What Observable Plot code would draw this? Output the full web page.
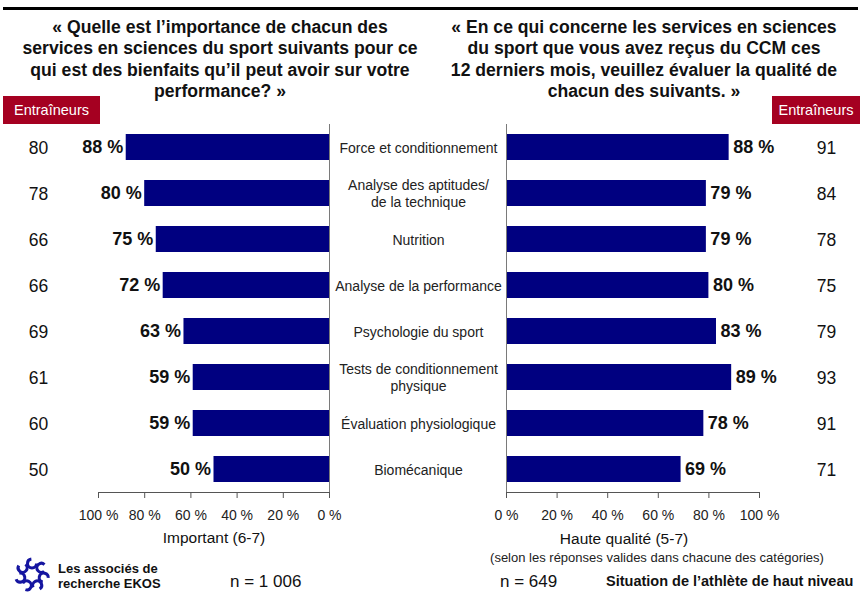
<!DOCTYPE html>
<html><head><meta charset="utf-8">
<script src="https://cdn.jsdelivr.net/npm/d3@7"></script>
<script src="https://cdn.jsdelivr.net/npm/@observablehq/plot@0.6"></script>
<style>
body{margin:0;background:#fff;font-family:"Liberation Sans",Arial,sans-serif;}
#wrap{position:relative;width:860px;height:592px;overflow:hidden;background:#fff;}
#wrap svg.plotsvg{position:absolute;left:0;top:0;}
.t{position:absolute;white-space:nowrap;color:#111;}
.title{position:absolute;top:17px;width:440px;text-align:center;font-weight:bold;font-size:17.6px;line-height:21.3px;color:#111;}
.badge{position:absolute;top:96px;height:28px;line-height:28px;background:#A50021;color:#fff;font-size:14.5px;text-align:center;}
</style></head><body><div id="wrap"></div>
<script>
// ---- data ----
const categories = [
  "Force et conditionnement",
  "Analyse des aptitudes/\nde la technique",
  "Nutrition",
  "Analyse de la performance",
  "Psychologie du sport",
  "Tests de conditionnement\nphysique",
  "Évaluation physiologique",
  "Biomécanique"
];
const important = [88, 80, 75, 72, 63, 59, 59, 50];        // athletes, % important (6-7)
const quality = [88, 79, 79, 80, 83, 89, 78, 69];          // athletes, % high quality (5-7)
const coachImportant = [80, 78, 66, 66, 69, 61, 60, 50];   // Entraîneurs (left)
const coachQuality = [91, 84, 78, 75, 79, 93, 91, 71];     // Entraîneurs (right)
const xTicks = [0, 20, 40, 60, 80, 100];
const titleLeft = ["« Quelle est l’importance de chacun des", "services en sciences du sport suivants pour ce", "qui est des bienfaits qu’il peut avoir sur votre", "performance? »"];
const titleRight = ["« En ce qui concerne les services en sciences", "du sport que vous avez reçus du CCM ces", "12 derniers mois, veuillez évaluer la qualité de", "chacun des suivants. »"];
const badgeLabel = "Entraîneurs";
const axisLabelLeft = "Important (6-7)";
const axisLabelRight = "Haute qualité (5-7)";
const noteRight = "(selon les réponses valides dans chacune des catégories)";
const nLeft = "n = 1 006";
const nRight = "n = 649";
const footerRight = "Situation de l’athlète de haut niveau";
const logoText = ["Les associés de", "recherche EKOS"];

// ---- build ----
const rows = categories.map((c, i) => ({cat: c, imp: important[i], qual: quality[i], cImp: coachImportant[i], cQual: coachQuality[i]}));
const pct = d => `${d} %`;
const navy = "#000080";
const font = "Liberation Sans, Arial, sans-serif";
const common = {
  width: 860, height: 592, marginTop: 124, marginBottom: 100,
  className: "plotsvg",
  style: {background: "transparent", fontFamily: font, fontSize: "14px", color: "#111", overflow: "visible"}
};
const yOpt = {domain: categories, axis: null, paddingInner: 0.435, paddingOuter: 0.217};

const left = Plot.plot({
  ...common, marginLeft: 98, marginRight: 531,
  x: {domain: [0, 100], reverse: true},
  y: yOpt,
  marks: [
    Plot.barX(rows, {x: "imp", y: "cat", fill: navy}),
    Plot.ruleX([0], {stroke: "#7a7a7a"}),
    Plot.frame({anchor: "bottom", stroke: "#555"}),
    Plot.axisX({ticks: xTicks, tickFormat: pct, tickSize: 6, tickPadding: 12, fontSize: 14, stroke: "#555", fill: "#222", label: null}),
    Plot.text(rows, {x: "imp", y: "cat", text: d => pct(d.imp), textAnchor: "end", dx: -3, fontSize: 18, fontWeight: "bold", fill: "#111"}),
    Plot.text(rows, {y: "cat", text: "cImp", frameAnchor: "left", textAnchor: "middle", dx: -60, dy: 1, fontSize: 17.5, fill: "#111"}),
    Plot.text(rows, {y: "cat", text: "cat", frameAnchor: "right", textAnchor: "middle", dx: 89, fontSize: 14, lineHeight: 1.2, fill: "#222"}),
    Plot.text([axisLabelLeft], {frameAnchor: "bottom", dy: 50, fontSize: 15.5, fill: "#111"})
  ]
});

const right = Plot.plot({
  ...common, marginLeft: 506, marginRight: 101,
  x: {domain: [0, 100]},
  y: yOpt,
  marks: [
    Plot.barX(rows, {x: "qual", y: "cat", fill: navy}),
    Plot.ruleX([0], {stroke: "#7a7a7a"}),
    Plot.frame({anchor: "bottom", stroke: "#555"}),
    Plot.axisX({ticks: xTicks, tickFormat: pct, tickSize: 6, tickPadding: 12, fontSize: 14, stroke: "#555", fill: "#222", label: null}),
    Plot.text(rows, {x: "qual", y: "cat", text: d => pct(d.qual), textAnchor: "start", dx: 4, fontSize: 18, fontWeight: "bold", fill: "#111"}),
    Plot.text(rows, {y: "cat", text: "cQual", frameAnchor: "right", textAnchor: "middle", dx: 67, dy: 1, fontSize: 17.5, fill: "#111"}),
    Plot.text([axisLabelRight], {frameAnchor: "bottom", dx: -9, dy: 51, fontSize: 15.5, fill: "#111"}),
    Plot.text([noteRight], {frameAnchor: "bottom", dx: 24, dy: 69, fontSize: 13, fill: "#222"})
  ]
});

const wrap = document.getElementById("wrap");
wrap.appendChild(left);
wrap.appendChild(right);

function el(cls, css, html) {
  const d = document.createElement("div");
  d.className = cls;
  d.style.cssText = css;
  d.innerHTML = html;
  wrap.appendChild(d);
  return d;
}
// top rule
el("t", "left:3px;top:7px;width:855px;height:3px;background:#000;", "");
// titles
el("title", "left:0px;", titleLeft.join("<br>"));
el("title", "left:424px;", titleRight.join("<br>"));
// badges
el("badge", "left:3px;width:97px;", badgeLabel);
el("badge", "left:772px;width:88px;", badgeLabel);
// footer
el("t", "left:230px;top:572px;font-size:17px;line-height:20px;", nLeft);
el("t", "left:500px;top:572px;font-size:17px;line-height:20px;", nRight);
el("t", "left:606px;top:573px;font-size:14.5px;font-weight:bold;line-height:17px;", footerRight);
el("t", "left:58px;top:562px;font-size:13px;font-weight:bold;line-height:14.5px;color:#111;", logoText.join("<br>"));

// logo (decorative ring of hooks)
const ns = "http://www.w3.org/2000/svg";
const logo = document.createElementNS(ns, "svg");
logo.setAttribute("width", 44); logo.setAttribute("height", 36);
logo.style.cssText = "position:absolute;left:11px;top:556px;";
for (let i = 0; i < 7; i++) {
  const a = i * 2 * Math.PI / 7 - Math.PI / 2;
  const c = document.createElementNS(ns, "circle");
  c.setAttribute("cx", 21 + 12 * Math.cos(a));
  c.setAttribute("cy", 19 + 11.5 * Math.sin(a));
  c.setAttribute("r", 4.5);
  c.setAttribute("fill", "none");
  c.setAttribute("stroke", "#1515a0");
  c.setAttribute("stroke-width", 3);
  c.setAttribute("stroke-dasharray", "20 8");
  c.setAttribute("transform", `rotate(${i * 360 / 7} ${21 + 12 * Math.cos(a)} ${19 + 11.5 * Math.sin(a)})`);
  logo.appendChild(c);
}
wrap.appendChild(logo);
</script>
</body></html>
